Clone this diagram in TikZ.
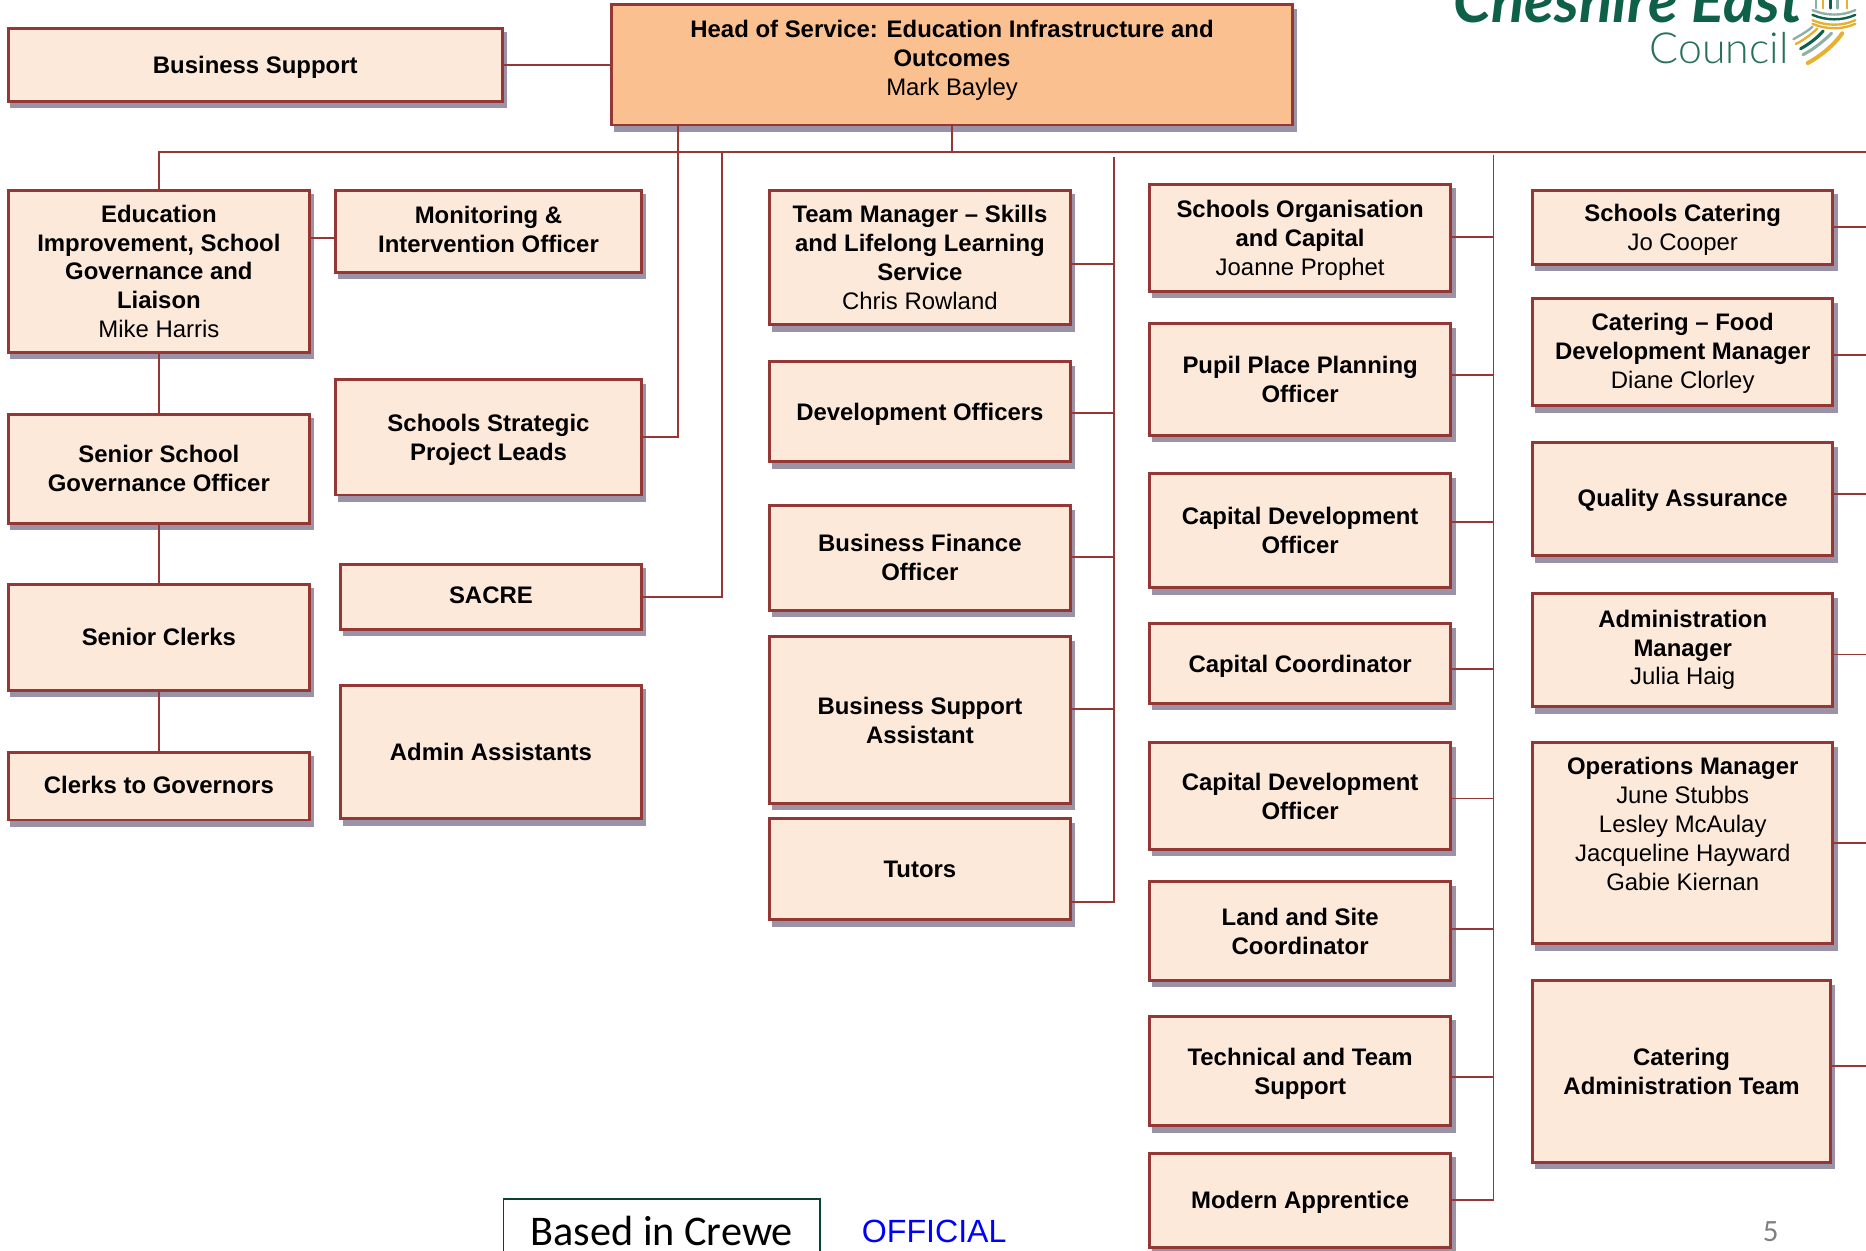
\documentclass[tikz,border=0pt]{standalone}
\usepackage{fontspec}
\setmainfont{Liberation Sans}
\newfontfamily\logofont{Lato}
\newfontfamily\logolight{Lato Light}
\newfontfamily\slidefont{Carlito}
\usetikzlibrary{shadows}
\definecolor{linkred}{HTML}{953735}
\definecolor{boxfill}{HTML}{FDE9D9}
\definecolor{headfill}{HTML}{FAC090}
\definecolor{shadowgrey}{HTML}{9A93A8}
\definecolor{logogreen}{HTML}{0F6048}
\definecolor{logoyellow}{HTML}{E8B030}
\definecolor{logogrey}{HTML}{8FB0A6}
\tikzset{
  orgbox/.style={draw=linkred,line width=2.4pt,fill=boxfill,align=center,inner sep=2pt,text depth=0pt,
    font=\fontsize{20.1}{24.3}\selectfont,
    general shadow={fill=shadowgrey,draw=shadowgrey,shadow xshift=3pt,shadow yshift=-4.5pt}},
  link/.style={draw=linkred,line width=1.6pt},
  strand/.style={line width=2pt,line cap=round},
}
\begin{document}
\begin{tikzpicture}[x=1pt,y=-1pt]
\useasboundingbox (0,0) rectangle (1568,1051.2);
\clip (0,0) rectangle (1568,1051.2);
% top row
\node[orgbox,fill=headfill,minimum width=572pt,minimum height=101pt,text depth=12pt] (head) at (800,54.5) {\textbf{Head of Service: Education Infrastructure and}\\\textbf{Outcomes}\\Mark Bayley};
\node[orgbox,minimum width=415pt,minimum height=61pt,text depth=-2pt] (bizsup) at (214.5,54.5) {\textbf{Business Support}};
% first column
\node[orgbox,minimum width=253pt,minimum height=136pt,text depth=-6pt] (edu) at (133.5,228) {\textbf{Education}\\\textbf{Improvement, School}\\\textbf{Governance and}\\\textbf{Liaison}\\Mike Harris};
\node[orgbox,minimum width=253pt,minimum height=92pt,text depth=1pt] (seniorgov) at (133.5,394) {\textbf{Senior School}\\\textbf{Governance Officer}};
\node[orgbox,minimum width=253pt,minimum height=89pt] (clerks) at (133.5,535.5) {\textbf{Senior Clerks}};
\node[orgbox,minimum width=253pt,minimum height=57pt,text depth=2pt] (governors) at (133.5,660.5) {\textbf{Clerks to Governors}};
% second column
\node[orgbox,minimum width=257pt,minimum height=69pt,text depth=4pt] (monitor) at (410.5,194.5) {\textbf{Monitoring \&}\\\textbf{Intervention Officer}};
\node[orgbox,minimum width=257pt,minimum height=97pt,text depth=-2pt] (strategic) at (410.5,367.5) {\textbf{Schools Strategic}\\\textbf{Project Leads}};
\node[orgbox,minimum width=253pt,minimum height=55pt,text depth=2pt] (sacre) at (412.5,501.5) {\textbf{SACRE}};
\node[orgbox,minimum width=253pt,minimum height=112pt,text depth=-2pt] (admin) at (412.5,632) {\textbf{Admin Assistants}};
% third column
\node[orgbox,minimum width=253pt,minimum height=113pt] (team) at (773,216.5) {\textbf{Team Manager -- Skills}\\\textbf{and Lifelong Learning}\\\textbf{Service}\\Chris Rowland};
\node[orgbox,minimum width=253pt,minimum height=84pt,text depth=-2pt] (devoff) at (773,346) {\textbf{Development Officers}};
\node[orgbox,minimum width=253pt,minimum height=88pt,text depth=1pt] (bizfin) at (773,469) {\textbf{Business Finance}\\\textbf{Officer}};
\node[orgbox,minimum width=253pt,minimum height=140pt,text depth=-2pt] (bizass) at (773,605) {\textbf{Business Support}\\\textbf{Assistant}};
\node[orgbox,minimum width=253pt,minimum height=85pt] (tutors) at (773,730.5) {\textbf{Tutors}};
% fourth column
\node[orgbox,minimum width=253pt,minimum height=90pt,text depth=-1pt] (orgcap) at (1092.5,200) {\textbf{Schools Organisation}\\\textbf{and Capital}\\Joanne Prophet};
\node[orgbox,minimum width=253pt,minimum height=94pt] (pupil) at (1092.5,319) {\textbf{Pupil Place Planning}\\\textbf{Officer}};
\node[orgbox,minimum width=253pt,minimum height=96pt] (capdevA) at (1092.5,446) {\textbf{Capital Development}\\\textbf{Officer}};
\node[orgbox,minimum width=253pt,minimum height=67pt] (capco) at (1092.5,557.5) {\textbf{Capital Coordinator}};
\node[orgbox,minimum width=253pt,minimum height=90pt] (capdevB) at (1092.5,669) {\textbf{Capital Development}\\\textbf{Officer}};
\node[orgbox,minimum width=253pt,minimum height=83pt] (land) at (1092.5,782.5) {\textbf{Land and Site}\\\textbf{Coordinator}};
\node[orgbox,minimum width=253pt,minimum height=92pt] (tech) at (1092.5,900) {\textbf{Technical and Team}\\\textbf{Support}};
\node[orgbox,minimum width=253pt,minimum height=79pt] (modern) at (1092.5,1008.5) {\textbf{Modern Apprentice}};
% fifth column
\node[orgbox,minimum width=252pt,minimum height=62pt,text depth=-10pt] (catering) at (1414,191) {\textbf{Schools Catering}\\Jo Cooper};
\node[orgbox,minimum width=252pt,minimum height=90pt,text depth=2pt] (food) at (1414,296) {\textbf{Catering -- Food}\\\textbf{Development Manager}\\Diane Clorley};
\node[orgbox,minimum width=252pt,minimum height=95pt,text depth=2pt] (qa) at (1414,419.5) {\textbf{Quality Assurance}};
\node[orgbox,minimum width=252pt,minimum height=95pt,text depth=5pt] (adminmgr) at (1414,546.5) {\textbf{Administration}\\\textbf{Manager}\\Julia Haig};
\node[orgbox,minimum width=252pt,minimum height=169pt,text depth=32pt] (ops) at (1414,708.5) {\textbf{Operations Manager}\\June Stubbs\\Lesley McAulay\\Jacqueline Hayward\\Gabie Kiernan};
\node[orgbox,minimum width=250pt,minimum height=153pt] (catadmin) at (1413,900.5) {\textbf{Catering}\\\textbf{Administration Team}};
% connectors
\coordinate (busEnd) at (1568,128);
\coordinate (dropA) at (570,128);
\coordinate (dropB) at (606.5,128);
\coordinate (spineA) at (936,132);
\coordinate (spineAend) at (936,758);
\coordinate (spineB) at (1255,130);
\draw[link] (edu.north) |- (busEnd);
\draw[link] (head.south) -- (head.south |- busEnd);
\draw[link] (strategic.east) -| (head.south -| dropA);
\draw[link] (sacre.east) -| (dropB);
\draw[link] (bizsup.east) -- (head.west);
\draw[link] (edu.east |- 0,200) -- (monitor.west |- 0,200);
\draw[link] (edu.south) -- (seniorgov.north) (seniorgov.south) -- (clerks.north) (clerks.south) -- (governors.north);
\draw[link] (spineA) -- (spineAend) -- (tutors.east |- spineAend);
\foreach \n/\y in {team/222,devoff/347,bizfin/468,bizass/596}
  \draw[link] (\n.east |- 0,\y) -- (spineA |- 0,\y);
\draw[link] (spineB) -- (spineB |- modern.east);
\foreach \n/\y in {orgcap/199,pupil/315,capdevA/439,capco/562,capdevB/671,land/781,tech/905,modern/1008}
  \draw[link] (\n.east |- 0,\y) -- (spineB |- 0,\y);
\foreach \n/\y in {catering/191,food/298,qa/415,adminmgr/550,ops/708,catadmin/896}
  \draw[link] (\n.east |- 0,\y) -- (busEnd |- 0,\y);
% footer
\node[draw=logogreen!70!black,line width=1.3pt,minimum width=266pt,minimum height=53pt,font=\slidefont\fontsize{35.5}{38}\selectfont,text depth=-11pt] (crewe) at (556,1034) {Based in Crewe};
\node[text=blue,font=\fontsize{27}{30}\selectfont] (official) at (785,1035) {OFFICIAL};
\node[text=gray,font=\slidefont\fontsize{26}{28}\selectfont] (pagenum) at (1488,1035) {5};
% logo
\node[anchor=base east,text=logogreen,font=\logofont\bfseries\itshape\fontsize{51.5}{55}\selectfont,inner sep=0pt] (logoA) at (1515,19) {Cheshire East};
\node[anchor=base east,text=logogreen!90,font=\logolight\fontsize{36}{39}\selectfont,inner sep=0pt] (logoB) at (1503,53) {Council};
\draw[strand,logoyellow,line width=3.4pt] (1519,53) .. controls (1530,47) and (1541,38) .. (1548,28);
\draw[strand,logogrey,line width=2.6pt] (1515,46) .. controls (1523,42) and (1532,35) .. (1539,28);
\draw[strand,logogreen,line width=2.6pt] (1513,41) .. controls (1520,37) and (1527,32) .. (1532,26);
\draw[strand,logoyellow] (1509,37) .. controls (1515,34) and (1522,29) .. (1527,24);
\draw[strand,logogrey] (1507,33) .. controls (1512,30) and (1518,27) .. (1523,22.5);
\foreach \c/\y in {logogrey/8.5,logogreen/12.5,logoyellow/17,logoyellow/20}
  \draw[strand,\c] (1523,\y) .. controls (1535,\y+5) and (1548,\y+5) .. (1559,\y);
\foreach \c/\x in {logogrey/1526,logoyellow/1532,logogreen/1538,logogrey/1544,logoyellow/1552}
  \draw[strand,\c] (\x,0) -- (\x,7);
\end{tikzpicture}
\end{document}
